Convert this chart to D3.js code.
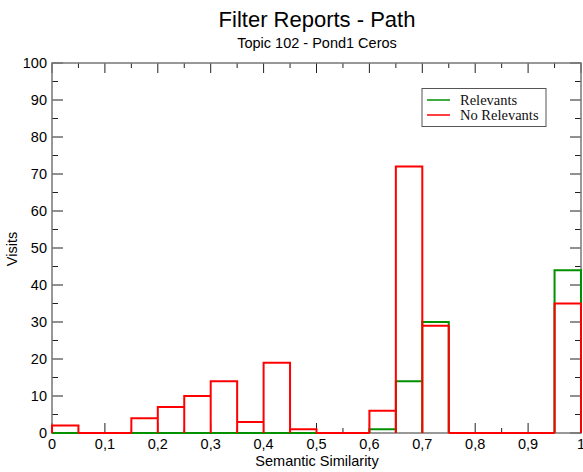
<!DOCTYPE html>
<html><head><meta charset="utf-8">
<script src="https://cdn.jsdelivr.net/npm/d3@7"></script>
<style>body{margin:0;background:#fff}svg{display:block}</style>
</head><body>
<svg id="c" width="583" height="472"></svg>
<script>
const binStarts = [0,0.05,0.1,0.15,0.2,0.25,0.3,0.35,0.4,0.45,0.5,0.55,0.6,0.65,0.7,0.75,0.8,0.85,0.9,0.95];
const binWidth = 0.05;
const relevants   = [0,0,0,0,0,0,0,0,0,0,0,0,1,14,30,0,0,0,0,44];
const noRelevants = [2,0,0,4,7,10,14,3,19,1,0,0,6,72,29,0,0,0,0,35];
const xTickValues = [0,0.1,0.2,0.3,0.4,0.5,0.6,0.7,0.8,0.9,1];
const xTickLabels = ["0","0,1","0,2","0,3","0,4","0,5","0,6","0,7","0,8","0,9","1"];
const yTickValues = [0,10,20,30,40,50,60,70,80,90,100];
const seriesNames = ["Relevants","No Relevants"];
const seriesColors = ["#009000","#ff0000"];

const svg = d3.select("#c");
const L=52, R=581, T=63, B=433;
const x = d3.scaleLinear().domain([0,1]).range([L,R]);
const y = d3.scaleLinear().domain([0,100]).range([B,T]);
const sans = "'Liberation Sans', Arial, Helvetica, sans-serif";
const fs = 14.5;

const xMinor = d3.range(0,1.0001,0.05);
const yMinor = d3.range(0,100.01,5);

function histPath(vals){
  let p = "";
  vals.forEach((v,i)=>{
    const xl = x(binStarts[i]), xr = x(binStarts[i]+binWidth);
    p += `M${xl},${y(0)}V${y(v)}H${xr}V${y(0)}`;
  });
  return p;
}
const tickG = svg.append("g").attr("stroke","#222").attr("stroke-width",1);
xMinor.forEach(v=>{
  const major = Math.abs(v*10-Math.round(v*10))<1e-6;
  const len = major?10:5;
  tickG.append("line").attr("x1",x(v)).attr("x2",x(v)).attr("y1",B).attr("y2",B-len);
  tickG.append("line").attr("x1",x(v)).attr("x2",x(v)).attr("y1",T).attr("y2",T+len);
});
yMinor.forEach(v=>{
  const major = v%10===0;
  const len = major?11:6;
  tickG.append("line").attr("x1",L).attr("x2",L+len).attr("y1",y(v)).attr("y2",y(v));
  tickG.append("line").attr("x1",R).attr("x2",R-len).attr("y1",y(v)).attr("y2",y(v));
});
svg.append("rect").attr("x",L).attr("y",T).attr("width",R-L).attr("height",B-T)
  .attr("fill","none").attr("stroke","#777").attr("stroke-width",1.5);

[relevants,noRelevants].forEach((vals,k)=>{
  svg.append("path").attr("d",histPath(vals)).attr("fill","none")
    .attr("stroke",seriesColors[k]).attr("stroke-width",2).attr("stroke-linejoin","miter");
});

xTickValues.forEach((v,i)=>{
  svg.append("text").attr("x",x(v)).attr("y",B+16).attr("text-anchor","middle")
    .attr("font-family",sans).attr("font-size",fs).text(xTickLabels[i]);
});
yTickValues.forEach(v=>{
  svg.append("text").attr("x",L-5).attr("y",y(v)+5).attr("text-anchor","end")
    .attr("font-family",sans).attr("font-size",fs).text(String(v));
});

svg.append("text").attr("x",317).attr("y",27).attr("text-anchor","middle")
  .attr("font-family",sans).attr("font-size",22).text("Filter Reports - Path");
svg.append("text").attr("x",317).attr("y",48).attr("text-anchor","middle")
  .attr("font-family",sans).attr("font-size",fs).text("Topic 102 - Pond1 Ceros");
svg.append("text").attr("x",317).attr("y",466).attr("text-anchor","middle")
  .attr("font-family",sans).attr("font-size",fs).text("Semantic Similarity");
svg.append("text").attr("transform","translate(17,249) rotate(-90)").attr("text-anchor","middle")
  .attr("font-family",sans).attr("font-size",fs).text("Visits");

const lg = svg.append("g");
lg.append("rect").attr("x",422).attr("y",88.5).attr("width",124).attr("height",38)
  .attr("fill","#fff").attr("stroke","#555").attr("stroke-width",1);
seriesNames.forEach((n,i)=>{
  const yy = 100+i*15;
  lg.append("line").attr("x1",427).attr("x2",450).attr("y1",yy).attr("y2",yy)
    .attr("stroke",seriesColors[i]).attr("stroke-width",1.5);
  lg.append("text").attr("x",460).attr("y",yy+5).attr("font-family","'Liberation Serif', 'Times New Roman', serif")
    .attr("font-size",14.5).attr("fill","#111").text(n);
});
</script>
</body></html>
